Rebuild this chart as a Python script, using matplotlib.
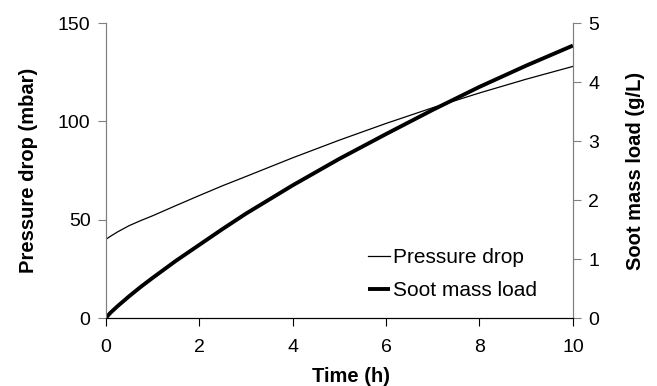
import matplotlib
matplotlib.use("Agg")
import matplotlib.pyplot as plt

plt.rcParams['font.family'] = ['Liberation Sans', 'DejaVu Sans']

# data
time_h = [0, 0.1, 0.25, 0.5, 0.75, 1, 1.5, 2, 2.5, 3, 4, 5, 6, 7, 8, 9, 10]
pressure_mbar = [40, 41.6, 43.8, 47, 49.6, 52, 57.2, 62.3, 67.3, 72, 81.5, 90.5, 99, 107, 114.5, 121.5, 128]
soot_gl = [0, 0.09, 0.2, 0.37, 0.53, 0.68, 0.97, 1.24, 1.51, 1.77, 2.25, 2.7, 3.12, 3.53, 3.92, 4.28, 4.62]

fig = plt.figure(figsize=(6.57, 3.86), dpi=100)
ax = fig.add_axes([0.161, 0.176, 0.711, 0.764])
ax2 = ax.twinx()

l1, = ax.plot(time_h, pressure_mbar, color='black', linewidth=0.9, label='Pressure drop')
l2, = ax2.plot(time_h, soot_gl, color='black', linewidth=2.8, label='Soot mass load',
               solid_capstyle='butt')

ax.set_xlim(0, 10)
ax.set_ylim(0, 150)
ax2.set_ylim(0, 5)
ax.set_xticks([0, 2, 4, 6, 8, 10])
ax.set_yticks([0, 50, 100, 150])
ax2.set_yticks([0, 1, 2, 3, 4, 5])

for a in (ax, ax2):
    a.spines['top'].set_visible(False)
    a.spines['left'].set_color('#808080')
    a.spines['right'].set_color('#808080')
    a.spines['bottom'].set_color('black')
    a.tick_params(direction='out', length=6, labelsize=14, width=0.8)
ax.tick_params(axis='y', color='#808080', pad=5)
ax2.tick_params(axis='y', color='#808080', pad=5)
ax.tick_params(axis='x', pad=9)

ax.set_xlabel('Time (h)', fontsize=14.5, fontweight='bold', labelpad=6)
ax.xaxis.set_label_coords(0.525, -0.165)
ax.set_ylabel('Pressure drop (mbar)', fontsize=14.5, fontweight='bold', labelpad=14)
ax2.set_ylabel('Soot mass load (g/L)', fontsize=14.5, fontweight='bold', labelpad=19)

ax.legend(handles=[l1, l2], loc='upper left', bbox_to_anchor=(368 / 657, 1 - 248 / 386),
          bbox_transform=fig.transFigure, frameon=False, fontsize=15,
          handlelength=1.05, handletextpad=0.15, labelspacing=0.68,
          borderpad=0, borderaxespad=0)

fig.savefig('out.png', dpi=100)
